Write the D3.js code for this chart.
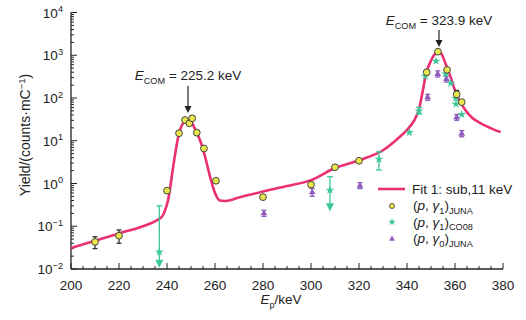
<!DOCTYPE html>
<html lang="en">
<head>
<meta charset="UTF-8">
<title>Yield</title>
<style>
  body { margin: 0; background: #fff; }
  svg text { font-family: "Liberation Sans", Arial, sans-serif; fill: #222; }
</style>
</head>
<body>
<div id="chart"></div>
<script src="https://d3js.org/d3.v7.min.js"></script>
<script>
// fit curve
const fitE = [200,210,220,230,236,238,239,240.5,242.6,244.7,246.8,248.5,250,252,254,256,258,260,262,264,270,280,290,300,310,320,330,336,340,343,345,346.5,348,350,351.5,352.9,354.5,356,358,360,362,364,367,370,373,376,379];
const fitY = [0.031,0.046,0.068,0.1,0.14,0.17,0.22,0.42,2.5,12.5,26,30,28,17,9.5,4,1.4,0.6,0.4,0.39,0.47,0.65,0.87,1.2,2.3,3.5,6,11,18,30,55,140,380,750,1050,1250,1050,650,330,150,85,55,35,27,22,18.5,16];

// (p,γ1) JUNA
const juna1E = [210,220,240,245,247.5,249.3,250.5,252.4,255.4,260.4,280,300,310,320,348.2,352.9,356.7,360.7,362.8];
const juna1Y = [0.043,0.06,0.68,15,30.5,25.6,33.5,15.5,6.6,1.16,0.48,0.94,2.4,3.4,400,1210,455,122,80];
const juna1Lo = [0.030,0.040,null,null,null,null,null,null,null,null,null,null,null,null,null,null,null,105,null];
const juna1Hi = [0.057,0.082,null,null,null,null,null,null,null,null,null,null,null,null,null,null,null,150,null];

// (p,γ1) CO08
const co08E = [236.8,307.9,328.3,341,345,347.6,352.1,356.1,358.2,360.3,360.4,362.8];
const co08Y = [0.025,0.7,3.7,15.6,50,325,730,365,221,98,72,41];
const co08Lo = [0.0115,0.24,2.07,null,42,null,null,null,null,null,null,null];
const co08Hi = [0.3,1.44,5.5,null,60,null,null,null,null,null,null,null];
const co08Limit = [true,true,false,false,false,false,false,false,false,false,false,false];

// (p,γ0) JUNA
const juna0E = [280.4,300.5,320.4,348.6,352.8,356.4,360.7,362.8];
const juna0Y = [0.2,0.62,0.89,104,365,277,35,14.6];
const juna0Lo = [0.17,0.5,0.76,88,310,235,30,12.4];
const juna0Hi = [0.235,0.76,1.05,122,430,325,41,17.2];

const xTicks = [200,220,240,260,280,300,320,340,360,380];
const yTicks = [-2,-1,0,1,2,3,4];

const pink = "#ea2f73", yellow = "#e9e64c", green = "#3dc79b", purple = "#8f5cbc";

const W = 526, H = 320;
const svg = d3.select("#chart").append("svg").attr("width", W).attr("height", H);

const x = d3.scaleLinear().domain([200, 380]).range([71, 503]);
const y = d3.scaleLog().domain([1e-2, 1e4]).range([269, 12.5]);

// text with italics / sub / sup parts
function rich(sel, parts, size) {
  let shift = 0;
  parts.forEach(p => {
    const t = sel.append("tspan").text(p.t);
    let target = p.sub ? 3.5 : p.sup ? -5.5 : 0;
    t.attr("dy", target - shift);
    shift = target;
    if (p.sub || p.sup) t.attr("font-size", size * 0.68);
    if (p.i) t.attr("font-style", "italic");
  });
}

// axes
const ax = svg.append("g").attr("stroke", "#222").attr("fill", "none");
ax.append("line").attr("x1", x(200)).attr("x2", x(380)).attr("y1", 269).attr("y2", 269).attr("stroke-width", 1.3);
ax.append("line").attr("x1", 71).attr("x2", 71).attr("y1", y(1e4)).attr("y2", 269).attr("stroke-width", 1.3);

d3.range(200, 381, 5).forEach(v => {
  const len = v % 20 === 0 ? 6 : 3;
  ax.append("line").attr("x1", x(v)).attr("x2", x(v)).attr("y1", 269).attr("y2", 269 - len);
});
yTicks.forEach(e => {
  ax.append("line").attr("x1", 71).attr("x2", 77).attr("y1", y(Math.pow(10, e))).attr("y2", y(Math.pow(10, e)));
  if (e < 4) d3.range(2, 10).forEach(m => {
    const v = m * Math.pow(10, e);
    ax.append("line").attr("x1", 71).attr("x2", 74).attr("y1", y(v)).attr("y2", y(v));
  });
});

svg.selectAll(".xl").data(xTicks).enter().append("text")
  .attr("x", d => x(d)).attr("y", 290).attr("text-anchor", "middle")
  .attr("font-size", 13.5).text(d => d);

yTicks.forEach(e => {
  const t = svg.append("text").attr("x", 63).attr("y", y(Math.pow(10, e)) + 5)
    .attr("text-anchor", "end").attr("font-size", 13.5);
  rich(t, [{t: "10"}, {t: e < 0 ? "\u2212" + (-e) : String(e), sup: true}], 13.5);
});

const xl = svg.append("text").attr("x", 281).attr("y", 304).attr("text-anchor", "middle").attr("font-size", 13.5);
rich(xl, [{t: "E", i: true}, {t: "p", sub: true}, {t: "/keV"}], 13.5);

const yl = svg.append("text").attr("transform", "translate(30,135) rotate(-90)")
  .attr("text-anchor", "middle").attr("font-size", 14);
rich(yl, [{t: "Yield/(counts\u00b7mC"}, {t: "\u22121", sup: true}, {t: ")"}], 14);

// fit line
const line = d3.line().x(d => x(d[0])).y(d => y(d[1])).curve(d3.curveMonotoneX);
svg.append("path").datum(d3.zip(fitE, fitY)).attr("d", line)
  .attr("fill", "none").attr("stroke", pink).attr("stroke-width", 2.6);

// error bars
function errBars(E, lo, hi, color, cap, limit) {
  const g = svg.append("g").attr("stroke", color).attr("stroke-width", 1.3);
  E.forEach((e, i) => {
    if (lo[i] == null) return;
    const cx = x(e), y1 = y(hi[i]), y2 = y(lo[i]);
    g.append("line").attr("x1", cx).attr("x2", cx).attr("y1", y1).attr("y2", limit && limit[i] ? y2 - 4 : y2);
    g.append("line").attr("x1", cx - cap).attr("x2", cx + cap).attr("y1", y1).attr("y2", y1);
    if (limit && limit[i]) {
      g.append("path").attr("d", `M${cx - 3},${y2 - 6}L${cx + 3},${y2 - 6}L${cx},${y2}Z`).attr("fill", color);
    } else {
      g.append("line").attr("x1", cx - cap).attr("x2", cx + cap).attr("y1", y2).attr("y2", y2);
    }
  });
}

errBars(juna0E, juna0Lo, juna0Hi, purple, 2.5);
errBars(co08E, co08Lo, co08Hi, green, 3, co08Limit);
errBars(juna1E, juna1Lo, juna1Hi, "#333", 2.5);

const star = d3.symbol().type(d3.symbolStar).size(24);
const tri = d3.symbol().type(d3.symbolTriangle).size(20);

svg.selectAll(".p0").data(d3.zip(juna0E, juna0Y)).enter().append("path")
  .attr("d", tri).attr("transform", d => `translate(${x(d[0])},${y(d[1])})`).attr("fill", purple);
svg.selectAll(".c8").data(d3.zip(co08E, co08Y)).enter().append("path")
  .attr("d", star).attr("transform", d => `translate(${x(d[0])},${y(d[1])})`).attr("fill", green);
svg.selectAll(".j1").data(d3.zip(juna1E, juna1Y)).enter().append("circle")
  .attr("cx", d => x(d[0])).attr("cy", d => y(d[1])).attr("r", 3.4)
  .attr("fill", yellow).attr("stroke", "#444").attr("stroke-width", 1);

// resonance labels
function resLabel(cx, ty, ay1, ay2, val) {
  const t = svg.append("text").attr("x", cx).attr("y", ty).attr("text-anchor", "middle").attr("font-size", 13.5);
  rich(t, [{t: "E", i: true}, {t: "COM", sub: true}, {t: " = " + val + " keV"}], 13.5);
  svg.append("line").attr("x1", cx).attr("x2", cx).attr("y1", ay1).attr("y2", ay2 - 5).attr("stroke", "#222").attr("stroke-width", 1.2);
  svg.append("path").attr("d", `M${cx - 3.5},${ay2 - 7}L${cx + 3.5},${ay2 - 7}L${cx},${ay2}Z`).attr("fill", "#222");
}
resLabel(188, 80, 86, 113, "225.2");
resLabel(439, 25, 30, 47, "323.9");

// legend
const lg = svg.append("g");
lg.append("line").attr("x1", 378).attr("x2", 405).attr("y1", 189).attr("y2", 189).attr("stroke", pink).attr("stroke-width", 2.6);
const l1 = lg.append("text").attr("x", 412).attr("y", 194).attr("font-size", 13.5);
rich(l1, [{t: "Fit 1: sub,11 keV"}], 13.5);
lg.append("circle").attr("cx", 392).attr("cy", 206).attr("r", 2.5).attr("fill", yellow).attr("stroke", "#444").attr("stroke-width", 0.9);
lg.append("path").attr("d", d3.symbol().type(d3.symbolStar).size(18)).attr("transform", "translate(392,222)").attr("fill", green);
lg.append("path").attr("d", d3.symbol().type(d3.symbolTriangle).size(15)).attr("transform", "translate(392,239)").attr("fill", purple);
const legRows = [
  [{t: "("}, {t: "p", i: true}, {t: ", "}, {t: "\u03b3", i: true}, {t: "1", sub: true}, {t: ")"}, {t: "JUNA", sub: true}],
  [{t: "("}, {t: "p", i: true}, {t: ", "}, {t: "\u03b3", i: true}, {t: "1", sub: true}, {t: ")"}, {t: "CO08", sub: true}],
  [{t: "("}, {t: "p", i: true}, {t: ", "}, {t: "\u03b3", i: true}, {t: "0", sub: true}, {t: ")"}, {t: "JUNA", sub: true}]
];
legRows.forEach((r, i) => {
  const t = lg.append("text").attr("x", 413).attr("y", 210 + i * 16.5).attr("font-size", 13.5);
  rich(t, r, 13.5);
});
</script>
</body>
</html>
